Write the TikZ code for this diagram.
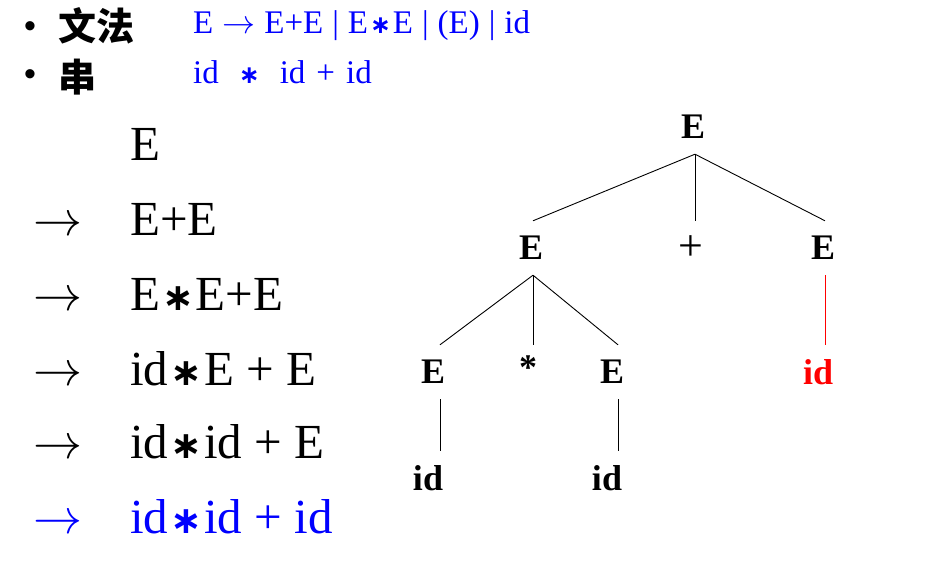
\documentclass[tikz,border=0pt]{standalone}
\usepackage{fontspec}
\setmainfont{Liberation Serif}
\newfontfamily\cjk{Noto Sans CJK SC}
\newfontfamily\bulfont{Liberation Sans}
\newfontfamily\symf{DejaVu Sans}
\DeclareFontShape{OMS}{cmsy}{m}{n}{<->cmsy10}{}
\DeclareFontShape{OML}{cmm}{m}{it}{<->cmmi10}{}
\definecolor{pblue}{RGB}{0,0,255}
\definecolor{pred}{RGB}{255,0,0}
\newcommand\bstar{{\symf\bfseries ∗}}
\newcommand\mystar{\hspace{2pt}{\fontsize{38}{38}\selectfont\bstar}\hspace{2pt}}
\newcommand\myarr{$\rightarrow$}
\begin{document}
\begin{tikzpicture}[x=1pt,y=-1pt,
  bul/.style={anchor=base,inner sep=0pt,font=\bulfont\fontsize{34}{34}\selectfont},
  head/.style={anchor=west,inner sep=0pt,font=\cjk\bfseries\fontsize{38}{40}\selectfont},
  gram/.style={anchor=base west,inner sep=0pt,text=pblue,font=\fontsize{33}{36}\selectfont},
  der/.style={anchor=base west,inner sep=0pt,font=\fontsize{49}{56}\selectfont},
  arr/.style={anchor=base west,inner sep=0pt,font=\fontsize{49}{56}\selectfont},
  tn/.style={inner sep=0pt,minimum height=54pt,font=\bfseries\fontsize{36}{40}\selectfont},
  edge/.style={draw=black,line width=0.9pt},
  redge/.style={draw=pred,line width=0.9pt}]
\useasboundingbox (0,0) rectangle (939,561);
% header
\node[bul] (b1) at (30,38) {•};
\node[bul] (b2) at (30,86) {•};
\node[head] (h1) at (58,26) {文法};
\node[head] (h2) at (58,77) {串};
\node[gram] (g1) at (193,34) {\spaceskip=9pt E \myarr\ E+E | E\hspace{2pt}{\fontsize{25}{26}\selectfont\bstar}\hspace{2pt}E | (E) | id};
\node[gram] (g2) at (193,84) {id\hspace{20pt}{\fontsize{25}{26}\selectfont\bstar}\hspace{20pt}id\hspace{11pt}+\hspace{11pt}id};
% derivation
\node[der] (d1) at (130,161) {E};
\node[arr] (a2) at (33,236) {\myarr};
\node[der] (d2) at (130,236) {E+E};
\node[arr] (a3) at (33,310) {\myarr};
\node[der] (d3) at (130,310) {E\mystar E+E};
\node[arr] (a4) at (33,385) {\myarr};
\node[der] (d4) at (130,385) {id\mystar E + E};
\node[arr] (a5) at (33,458) {\myarr};
\node[der] (d5) at (130,458) {id\mystar id + E};
\node[arr,text=pblue] (a6) at (33,533) {\myarr};
\node[der,text=pblue] (d6) at (130,533) {id\mystar id + id};
% tree
\node[tn] (r) at (693,127) {E};
\node[tn] (l) at (531,248) {E};
\node[tn,font=\fontsize{44}{44}\selectfont] (p) at (691,248) {+};
\node[tn] (rr) at (823,248) {E};
\node[tn] (ll) at (433,372) {E};
\node[tn] (s) at (528,368) {*};
\node[tn] (lr) at (612,372) {E};
\node[tn,text=pred] (rid) at (818,372) {id};
\node[tn] (id1) at (428,478) {id};
\node[tn] (id2) at (607,478) {id};
\draw[edge] ([xshift=2pt]r.south) -- ([xshift=2pt]l.north);
\draw[edge] ([xshift=2pt]r.south) -- ([xshift=4pt]p.north);
\draw[edge] ([xshift=2pt]r.south) -- ([xshift=2pt]rr.north);
\draw[edge] ([xshift=2pt]l.south) -- ([xshift=7pt]ll.north);
\draw[edge] ([xshift=2pt]l.south) -- ([xshift=5pt,yshift=-4pt]s.north);
\draw[edge] ([xshift=2pt]l.south) -- ([xshift=6pt]lr.north);
\draw[redge] ([xshift=2pt]rr.south) -- ([xshift=7pt]rid.north);
\draw[edge] ([xshift=7pt]ll.south) -- ([xshift=12pt]id1.north);
\draw[edge] ([xshift=6pt]lr.south) -- ([xshift=11pt]id2.north);
\end{tikzpicture}
\end{document}
